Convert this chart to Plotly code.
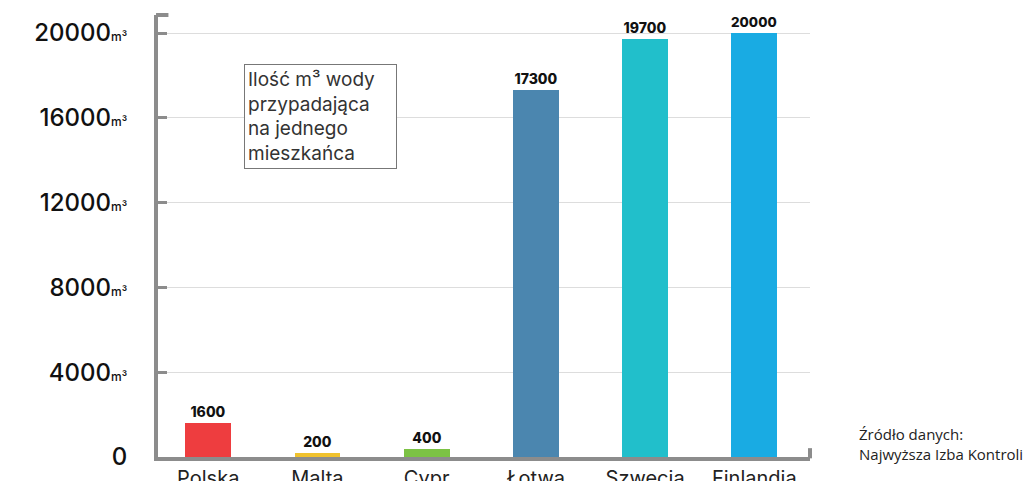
import plotly.graph_objects as go

countries = ["Polska", "Malta", "Cypr", "Łotwa", "Szwecja", "Finlandia"]
water_m3 = [1600, 200, 400, 17300, 19700, 20000]
bar_colors = ["#EE3D3F", "#F0C22E", "#7CC244", "#4B86AF", "#21BFCB", "#19ABE3"]
y_tick_vals = [0, 4000, 8000, 12000, 16000, 20000]
y_tick_text = ["0"] + [f"{v}<span style='font-size:12px'>m³</span>" for v in y_tick_vals[1:]]
legend_text = "Ilość m³ wody<br>przypadająca<br>na jednego<br>mieszkańca"
source_text = "Źródło danych:<br>Najwyższa Izba Kontroli"

AX = "#8C8C8C"
FONT = "Inter"

fig = go.Figure(go.Bar(
    x=countries, y=water_m3,
    marker=dict(color=bar_colors, line=dict(width=0)),
    width=0.42,
    text=[f"{v}" for v in water_m3],
    textposition="outside",
    textfont=dict(family=FONT, size=14, color="#111", weight=800),
    cliponaxis=False,
))

fig.update_layout(
    width=1033, height=481,
    margin=dict(l=158, r=223, t=15, b=24),
    plot_bgcolor="white", paper_bgcolor="white",
    showlegend=False,
    bargap=0,
    xaxis=dict(
        range=[-0.46, 5.51], showgrid=False, zeroline=False,
        showline=True, linecolor=AX, linewidth=4,
        ticks="", tickfont=dict(family=FONT, size=20, color="#222"),
        automargin=False,
    ),
    yaxis=dict(
        range=[0, 20850], tickvals=y_tick_vals, ticktext=y_tick_text,
        showgrid=True, gridcolor="#DDDDDD", gridwidth=1, zeroline=False,
        showline=True, linecolor=AX, linewidth=4,
        ticks="inside", ticklen=9, tickwidth=3, tickcolor=AX,
        tickfont=dict(family=FONT, size=24, color="#111", weight=500),
        ticklabelstandoff=22,
        automargin=False,
    ),
    shapes=[
        dict(type="line", xref="x domain", yref="y domain", x0=-0.003, x1=0.016, y0=1, y1=1,
             line=dict(color=AX, width=4)),
        dict(type="line", xref="x domain", yref="y domain", x0=1, x1=1, y0=-0.003, y1=0.02,
             line=dict(color=AX, width=4)),
    ],
    annotations=[
        dict(text=legend_text, xref="paper", yref="paper", x=(244 - 158) / 652, y=(457 - 64) / 442,
             xanchor="left", yanchor="top", align="left", showarrow=False,
             width=145, height=97,
             font=dict(family=FONT, size=19, color="#333"),
             bordercolor="#777", borderwidth=1, borderpad=3, bgcolor="white"),
        dict(text=source_text, xref="paper", yref="paper", x=(857 - 158) / 652, y=(457 - 422) / 442,
             xanchor="left", yanchor="top", align="left", showarrow=False,
             font=dict(family="Open Sans", size=15, color="#222")),
    ],
)

fig.write_html("out.html")
